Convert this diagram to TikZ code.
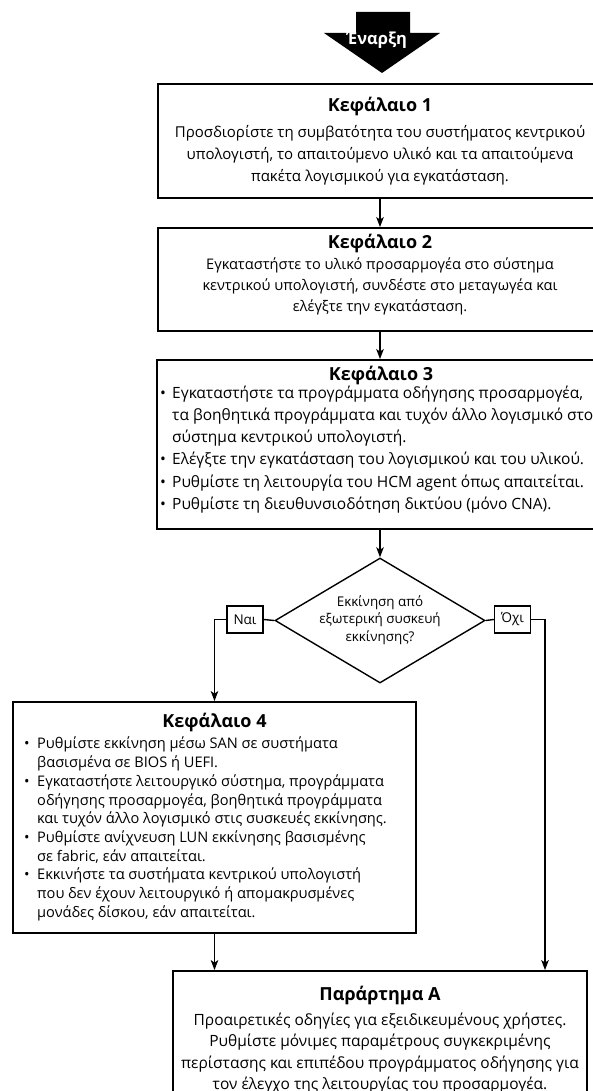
\documentclass[tikz,border=0pt]{standalone}
\usepackage{fontspec}
\setmainfont{Open Sans}
\usetikzlibrary{shapes.geometric,arrows.meta}
\newcommand{\myb}{\makebox[12pt][l]{\textbullet}}
\newcommand{\myi}{\hspace*{12pt}}
\newcommand{\mybb}{\makebox[13pt][l]{\textbullet}}
\newcommand{\myii}{\hspace*{13pt}}
\begin{document}
\begin{tikzpicture}[x=1pt,y=-1pt,
  box/.style={draw, line width=1.8pt, rectangle, inner sep=0pt},
  ttl/.style={font=\fontsize{18}{20}\selectfont\bfseries, inner sep=0pt},
  body/.style={font=\fontsize{15}{22}\selectfont, align=center, inner sep=0pt},
  arr/.style={line width=1.4pt, -{Stealth[length=10pt,width=7.5pt,inset=2.5pt]}},
  lin/.style={line width=1.4pt},
  yn/.style={draw, line width=1.4pt, minimum width=36pt, minimum height=27pt, inner sep=0pt, font=\fontsize{13.5}{15}\selectfont}]
\useasboundingbox (0,0) rectangle (592,1091);
% start
\fill (356,12) -- (410,12) -- (410,33) -- (440,33) -- (382,73) -- (324,33) -- (356,33) -- cycle;
\node[font=\fontsize{16.5}{18}\selectfont\bfseries, text=white, inner sep=0pt] (start) at (377,40) {Έναρξη};
% box 1
\node[box, minimum width=444pt, minimum height=114pt] (k1) at (380,141) {};
\node[ttl] (t1) at (380,107) {Κεφάλαιο 1};
\node[body] (b1) at (380,155) {Προσδιορίστε τη συμβατότητα του συστήματος κεντρικού\\υπολογιστή, το απαιτούμενο υλικό και τα απαιτούμενα\\πακέτα λογισμικού για εγκατάσταση.};
% box 2
\node[box, minimum width=444pt, minimum height=103pt] (k2) at (380,279.5) {};
\node[ttl] (t2) at (380,243) {Κεφάλαιο 2};
\node[body, font=\fontsize{14.6}{21}\selectfont] (b2) at (380,286) {Εγκαταστήστε το υλικό προσαρμογέα στο σύστημα\\κεντρικού υπολογιστή, συνδέστε στο μεταγωγέα και\\ελέγξτε την εγκατάσταση.};
% box 3
\node[box, minimum width=446pt, minimum height=169pt] (k3) at (380,444.5) {};
\node[ttl] (t3) at (381,375) {Κεφάλαιο 3};
\node[body, font=\fontsize{15.5}{22.2}\selectfont, align=left, anchor=west] (b3) at (160,449.5) {\myb Εγκαταστήστε τα προγράμματα οδήγησης προσαρμογέα,\\\myi τα βοηθητικά προγράμματα και τυχόν άλλο λογισμικό στο\\\myi σύστημα κεντρικού υπολογιστή.\\\myb Ελέγξτε την εγκατάσταση του λογισμικού και του υλικού.\\\myb Ρυθμίστε τη λειτουργία του HCM agent όπως απαιτείται.\\\myb Ρυθμίστε τη διευθυνσιοδότηση δικτύου (μόνο CNA).};
% decision
\node[draw, diamond, line width=1.4pt, minimum width=210pt, minimum height=125pt, inner sep=0pt] (dia) at (380,620.5) {};
\node[font=\fontsize{13.4}{17.5}\selectfont, align=center, inner sep=0pt] (dt) at (380,620) {Εκκίνηση από\\εξωτερική συσκευή\\εκκίνησης?};
\node[yn] (nai) at (245,619.5) {Ναι};
\node[yn] (ochi) at (512.5,619.5) {Όχι};
% box 4
\node[box, minimum width=403pt, minimum height=231pt] (k4) at (214.5,817.5) {};
\node[ttl] (t4) at (214.5,722) {Κεφάλαιο 4};
\node[body, font=\fontsize{14.6}{18.7}\selectfont, align=left, anchor=west] (b4) at (24,829) {\mybb Ρυθμίστε εκκίνηση μέσω SAN σε συστήματα\\\myii βασισμένα σε BIOS ή UEFI.\\\mybb Εγκαταστήστε λειτουργικό σύστημα, προγράμματα\\\myii οδήγησης προσαρμογέα, βοηθητικά προγράμματα\\\myii και τυχόν άλλο λογισμικό στις συσκευές εκκίνησης.\\\mybb Ρυθμίστε ανίχνευση LUN εκκίνησης βασισμένης\\\myii σε fabric, εάν απαιτείται.\\\mybb Εκκινήστε τα συστήματα κεντρικού υπολογιστή\\\myii που δεν έχουν λειτουργικό ή απομακρυσμένες\\\myii μονάδες δίσκου, εάν απαιτείται.};
% appendix
\node[box, minimum width=414pt, minimum height=130pt] (app) at (380,1036) {};
\node[ttl] (t5) at (380,995) {Παράρτημα A};
\node[body, font=\fontsize{15.5}{21.3}\selectfont] (b5) at (380,1053) {Προαιρετικές οδηγίες για εξειδικευμένους χρήστες.\\Ρυθμίστε μόνιμες παραμέτρους συγκεκριμένης\\περίστασης και επιπέδου προγράμματος οδήγησης για\\τον έλεγχο της λειτουργίας του προσαρμογέα.};
% connectors
\draw[arr] (k1.south) -- (k2.north);
\draw[arr] (k2.south) -- (k3.north);
\draw[arr] (k3.south) -- (dia.north);
\draw[lin] (dia.west) -- (nai.east);
\draw[lin] (dia.east) -- (ochi.west);
\draw[arr] (nai.west) -| (k4.north);
\draw[arr] (ochi.east) -| ([xshift=165pt]app.north);
\draw[arr] (k4.south) -- (k4.south |- app.north);
\end{tikzpicture}
\end{document}
